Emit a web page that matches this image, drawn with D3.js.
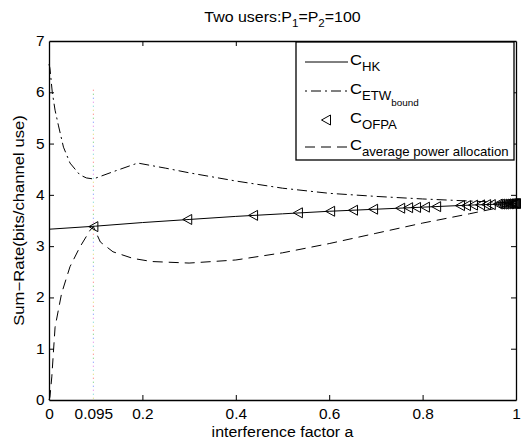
<!DOCTYPE html>
<html>
<head>
<meta charset="utf-8">
<script src="https://cdn.jsdelivr.net/npm/d3@7"></script>
<style>
  body { margin: 0; background: #fff; }
  svg { font-family: "Liberation Sans", Arial, sans-serif; }
</style>
</head>
<body>
<svg id="chart" width="524" height="442"></svg>
<script>
// C_HK (solid line)
var hkA   = [0, 0.1, 0.2, 0.3, 0.4, 0.5, 0.6, 0.7, 0.8, 0.9, 1.0];
var hkVal = [3.33, 3.39, 3.46, 3.52, 3.58, 3.63, 3.68, 3.72, 3.76, 3.80, 3.83];

// C_ETW bound (dash-dot)
var etwA   = [0, 0.002, 0.007, 0.013, 0.02, 0.031, 0.045, 0.066, 0.08, 0.095, 0.14, 0.19, 0.25, 0.3, 0.4, 0.5, 0.6, 0.7, 0.8, 0.9, 1.0];
var etwVal = [6.55, 6.47, 6.0, 5.65, 5.36, 4.93, 4.62, 4.39, 4.33, 4.31, 4.46, 4.62, 4.52, 4.43, 4.27, 4.13, 4.03, 3.97, 3.92, 3.88, 3.84];

// C_OFPA (triangle markers)
var ofpaA   = [0.095, 0.296, 0.437, 0.533, 0.602, 0.651, 0.694, 0.752, 0.769, 0.786, 0.805, 0.829, 0.88, 0.893, 0.908, 0.923, 0.936, 0.946, 0.961, 0.966, 0.971, 0.975, 0.979, 0.983, 0.986, 0.989, 0.992, 0.994, 0.996, 0.998, 1.0];
var ofpaVal = [3.38, 3.52, 3.60, 3.65, 3.68, 3.70, 3.72, 3.74, 3.75, 3.755, 3.76, 3.77, 3.79, 3.79, 3.80, 3.805, 3.81, 3.81, 3.82, 3.82, 3.82, 3.82, 3.825, 3.825, 3.825, 3.83, 3.83, 3.83, 3.83, 3.83, 3.83];

// C_average power allocation (dashed)
var avgA   = [0, 0.002, 0.006, 0.013, 0.027, 0.045, 0.066, 0.088, 0.095, 0.11, 0.137, 0.18, 0.22, 0.3, 0.4, 0.5, 0.6, 0.7, 0.8, 0.9, 1.0];
var avgVal = [0, 0.06, 0.45, 1.42, 2.08, 2.6, 2.98, 3.31, 3.38, 3.08, 2.89, 2.76, 2.70, 2.67, 2.73, 2.87, 3.05, 3.25, 3.45, 3.63, 3.82];

var xTicks = [0, 0.095, 0.2, 0.4, 0.6, 0.8, 1];
var yTicks = [0, 1, 2, 3, 4, 5, 6, 7];
var markA = 0.095, markTop = 6.05;

var svg = d3.select('#chart');
var pLeft = 49, pRight = 516, pTop = 41, pBottom = 400;
var stretch = 1.1; // text in the reference is a bit wide

var x = d3.scaleLinear().domain([0, 1]).range([pLeft, pRight]);
var y = d3.scaleLinear().domain([0, 7]).range([pBottom, pTop]);

function zip(a, v) { return a.map(function(d, i) { return [d, v[i]]; }); }

var line = d3.line()
  .x(function(d) { return x(d[0]); })
  .y(function(d) { return y(d[1]); });

// vertical dotted marker line (multi-coloured dots)
var dotColors = ['#ff6b6b', '#66cc66', '#6b8cff', '#e07ae0', '#66d0d0', '#d8d860'];
dotColors.forEach(function(c, i) {
  svg.append('line')
    .attr('x1', x(markA)).attr('x2', x(markA))
    .attr('y1', y(markTop)).attr('y2', y(0))
    .attr('stroke', c)
    .attr('stroke-width', 1)
    .attr('stroke-dasharray', '1,' + (dotColors.length * 4 - 1))
    .attr('stroke-dashoffset', -i * 4);
});

// curves
svg.append('path')
  .attr('d', line(zip(etwA, etwVal)))
  .attr('fill', 'none').attr('stroke', '#000').attr('stroke-width', 1)
  .attr('stroke-dasharray', '10,4,2,4');

svg.append('path')
  .attr('d', line(zip(avgA, avgVal)))
  .attr('fill', 'none').attr('stroke', '#000').attr('stroke-width', 1)
  .attr('stroke-dasharray', '10,6');

svg.append('path')
  .attr('d', line(zip(hkA, hkVal)))
  .attr('fill', 'none').attr('stroke', '#000').attr('stroke-width', 1);

var tri = 'M-4.5,0L4.5,-5L4.5,5Z';
svg.selectAll('path.ofpa')
  .data(zip(ofpaA, ofpaVal))
  .enter()
  .append('path')
  .attr('class', 'ofpa')
  .attr('d', tri)
  .attr('transform', function(d) { return 'translate(' + x(d[0]) + ',' + y(d[1]) + ')'; })
  .attr('fill', 'none').attr('stroke', '#000').attr('stroke-width', 1);

// axes with inward ticks
var xAxis = svg.append('g')
  .attr('transform', 'translate(0,' + pBottom + ')')
  .call(d3.axisBottom(x).tickValues(xTicks).tickSize(-5).tickSizeOuter(0).tickPadding(9).tickFormat(String));
xAxis.selectAll('.tick line').filter(function(d) { return d === 0.095 || d === 0 || d === 1; }).remove();

svg.append('g')
  .attr('transform', 'translate(0,' + pTop + ')')
  .call(d3.axisTop(x).tickValues([0.2, 0.4, 0.6, 0.8]).tickSize(-5).tickSizeOuter(0).tickFormat(''));

var yAxis = svg.append('g')
  .attr('transform', 'translate(' + pLeft + ',0)')
  .call(d3.axisLeft(y).tickValues(yTicks).tickSize(-5).tickSizeOuter(0).tickPadding(4).tickFormat(String));
yAxis.selectAll('.tick line').filter(function(d) { return d === 0 || d === 7; }).remove();

svg.append('g')
  .attr('transform', 'translate(' + pRight + ',0)')
  .call(d3.axisRight(y).tickValues([1, 2, 3, 4, 5, 6]).tickSize(-5).tickSizeOuter(0).tickFormat(''));

svg.selectAll('.domain').attr('stroke', '#000').attr('stroke-width', 1.3);
svg.selectAll('.tick line').attr('stroke', '#000');
svg.selectAll('.tick text').attr('font-size', 14).attr('fill', '#000')
  .attr('font-family', '"Liberation Sans", Arial, sans-serif')
  .attr('transform', 'scale(' + stretch + ',1)');

// title
var title = svg.append('text')
  .attr('transform', 'translate(' + (pLeft + pRight) / 2 + ',22) scale(' + stretch + ',1)')
  .attr('text-anchor', 'middle').attr('font-size', 14.5);
title.append('tspan').text('Two users:P');
title.append('tspan').attr('font-size', 10.5).attr('dy', 5).text('1');
title.append('tspan').attr('dy', -5).text('=P');
title.append('tspan').attr('font-size', 10.5).attr('dy', 5).text('2');
title.append('tspan').attr('dy', -5).text('=100');

// axis labels
svg.append('text')
  .attr('transform', 'translate(' + (pLeft + pRight) / 2 + ',437) scale(' + stretch + ',1)')
  .attr('text-anchor', 'middle').attr('font-size', 14.5)
  .text('interference factor a');

svg.append('text')
  .attr('transform', 'translate(24,' + (pTop + pBottom) / 2 + ') rotate(-90) scale(1.15,1)')
  .attr('text-anchor', 'middle').attr('font-size', 14.5)
  .text('Sum\u2212Rate(bits/channel use)');

// legend
var lg = svg.append('g');
lg.append('rect')
  .attr('x', 296).attr('y', 42).attr('width', 218).attr('height', 118)
  .attr('fill', '#fff').attr('stroke', '#000').attr('stroke-width', 1.3);

var legendRows = [
  { y: 62, kind: 'solid', sub: 'HK' },
  { y: 91, kind: 'dashdot', sub: 'ETW', subsub: 'bound' },
  { y: 120, kind: 'marker', sub: 'OFPA' },
  { y: 147, kind: 'dashed', sub: 'average power allocation' }
];
legendRows.forEach(function(r) {
  if (r.kind === 'marker') {
    lg.append('path').attr('d', tri)
      .attr('transform', 'translate(326,' + r.y + ')')
      .attr('fill', 'none').attr('stroke', '#000');
  } else {
    var l = lg.append('line')
      .attr('x1', 305).attr('x2', 348).attr('y1', r.y).attr('y2', r.y)
      .attr('stroke', '#000').attr('stroke-width', 1);
    if (r.kind === 'dashdot') l.attr('stroke-dasharray', '2,4,10,4');
    if (r.kind === 'dashed') l.attr('stroke-dasharray', '10,6');
  }
  var t = lg.append('text')
    .attr('transform', 'translate(350,' + (r.y + 3) + ') scale(' + stretch + ',1)')
    .attr('font-size', 15);
  t.append('tspan').text('C');
  t.append('tspan').attr('font-size', 12).attr('dy', 6).text(r.sub);
  if (r.subsub) t.append('tspan').attr('font-size', 9).attr('dy', 6).text(r.subsub);
});
</script>
</body>
</html>
